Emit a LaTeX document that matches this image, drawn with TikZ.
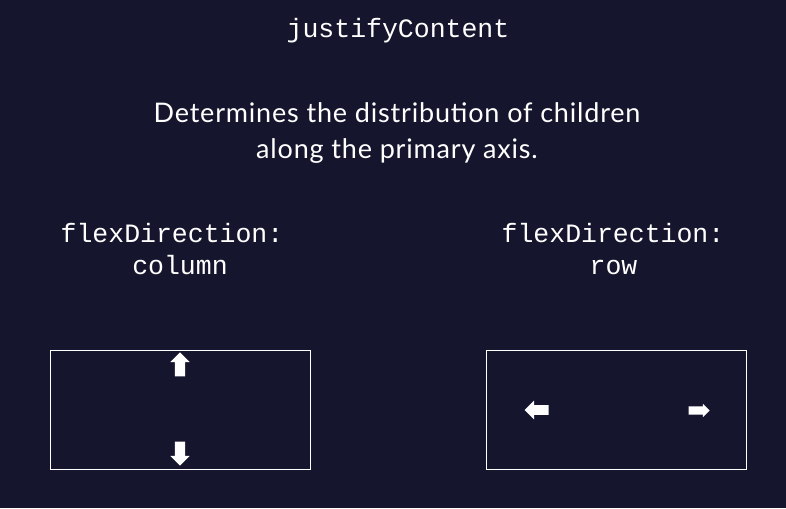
\documentclass[tikz,border=0pt]{standalone}
\usepackage{fontspec}
\setmainfont{Lato}
\newfontfamily\codefont{Liberation Mono}
\usetikzlibrary{shapes.arrows}

\definecolor{bgnavy}{HTML}{16152E}

\tikzset{
  codetext/.style={text=white, font=\codefont\fontsize{26.5}{30}\selectfont, anchor=base, inner sep=0},
  prosetext/.style={text=white, font=\fontsize{27}{30}\selectfont\addfontfeature{LetterSpace=3}, anchor=base, inner sep=0},
  flexbox/.style={draw=white, line width=1pt, inner sep=0, minimum width=260pt, minimum height=119pt},
  bigarrow/.style={single arrow, fill=white, inner xsep=0, inner ysep=5pt, minimum height=24pt,
    minimum width=19pt, single arrow head extend=4.5pt},
  smallarrow/.style={single arrow, fill=white, inner xsep=0, inner ysep=4pt, minimum height=21pt,
    minimum width=13pt, single arrow head extend=2.5pt}
}

\begin{document}
\begin{tikzpicture}[x=1pt,y=-1pt]

\fill[bgnavy] (0,0) rectangle (786,508);
\useasboundingbox (0,0) rectangle (786,508);

\node[codetext] (title) at (398,38) {justifyContent};

\node[prosetext] (descA) at (397,122) {Determines the distribution of children};
\node[prosetext] (descB) at (397,158) {along the primary axis.};

\node[codetext] (colhdA) at (172,242) {flexDirection:};
\node[codetext] (colhdB) at (180,274) {column};
\node[codetext] (rowhdA) at (613,242) {flexDirection:};
\node[codetext] (rowhdB) at (613.5,274) {row};

\node[flexbox] (colbox) at (180,409.5) {};
\node[flexbox] (rowbox) at (616.5,409.5) {};

\node[bigarrow, rotate=90] (colstart) at (180,367) {};
\node[bigarrow, rotate=270] (colend) at (180,451) {};
\node[bigarrow, rotate=180, inner ysep=4.5pt] (rowstart) at (539,410) {};
\node[smallarrow] (rowend) at (697,410.5) {};

\end{tikzpicture}
\end{document}
